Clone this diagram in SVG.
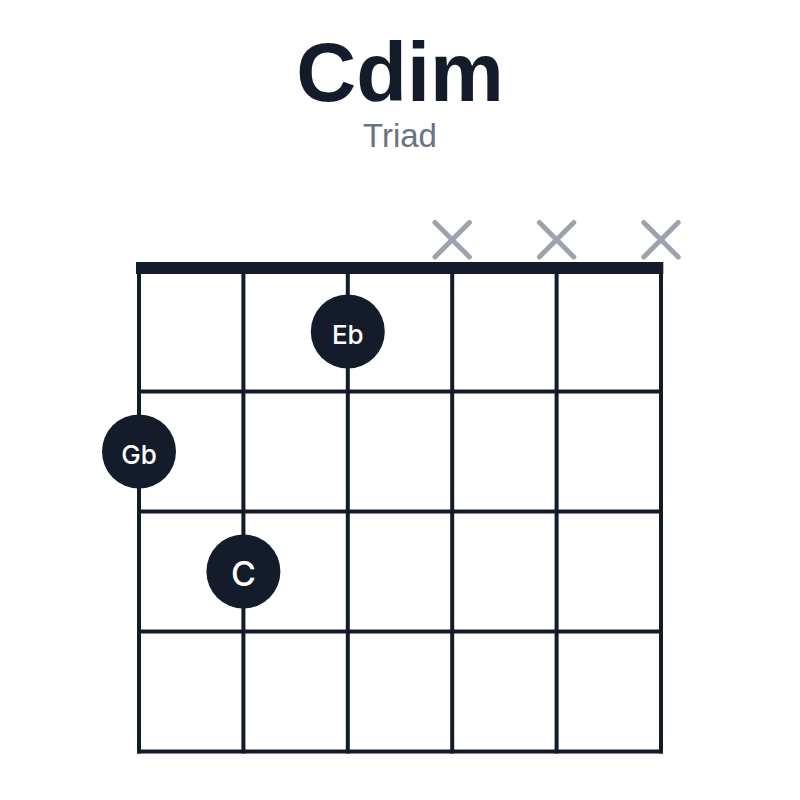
<svg xmlns="http://www.w3.org/2000/svg" width="800" height="800" viewBox="0 0 800 800">
<style>
.str{stroke:#141B2A;stroke-width:4;stroke-linecap:square}
.fret{stroke:#141B2A;stroke-width:4}
.mute{stroke:#9CA3AF;stroke-width:5;stroke-linecap:round}
.dot{fill:#141B2A}
.lbl{fill:#FFFFFF;font-family:Inter,"Liberation Sans",Arial,sans-serif;font-weight:500;text-anchor:middle;dominant-baseline:central}
</style>
<rect width="800" height="800" fill="#FFFFFF"/>
<g id="title">
<text x="400" y="101" font-family="Liberation Sans, Arial, sans-serif" font-weight="bold" font-size="83" fill="#141B2A" text-anchor="middle">Cdim</text>
<text x="400" y="147" font-family="Liberation Sans, Arial, sans-serif" font-size="33" fill="#6B7280" text-anchor="middle">Triad</text>
</g>
<g id="fretboard">
<g id="strings">
<line class="str" x1="139" y1="270" x2="139" y2="751.5"/>
<line class="str" x1="243.4" y1="270" x2="243.4" y2="751.5"/>
<line class="str" x1="347.8" y1="270" x2="347.8" y2="751.5"/>
<line class="str" x1="452.2" y1="270" x2="452.2" y2="751.5"/>
<line class="str" x1="556.6" y1="270" x2="556.6" y2="751.5"/>
<line class="str" x1="661" y1="270" x2="661" y2="751.5"/>
</g>
<g id="frets">
<line class="fret" x1="137" y1="391.5" x2="663" y2="391.5"/>
<line class="fret" x1="137" y1="511.5" x2="663" y2="511.5"/>
<line class="fret" x1="137" y1="631.5" x2="663" y2="631.5"/>
<line class="fret" x1="137" y1="751.5" x2="663" y2="751.5"/>
</g>
<rect id="nut" x="136" y="262" width="527.3" height="12" fill="#141B2A"/>
</g>
<g id="mutes">
<g id="mute-4"><line class="mute" x1="435" y1="222.5" x2="469.4" y2="256.9"/><line class="mute" x1="469.4" y1="222.5" x2="435" y2="256.9"/></g>
<g id="mute-5"><line class="mute" x1="539.4" y1="222.5" x2="573.8" y2="256.9"/><line class="mute" x1="573.8" y1="222.5" x2="539.4" y2="256.9"/></g>
<g id="mute-6"><line class="mute" x1="643.8" y1="222.5" x2="678.2" y2="256.9"/><line class="mute" x1="678.2" y1="222.5" x2="643.8" y2="256.9"/></g>
</g>
<g id="note-Eb"><circle class="dot" cx="347.8" cy="331.5" r="37"/><text class="lbl" x="347.8" y="334" font-size="26">Eb</text></g>
<g id="note-Gb"><circle class="dot" cx="139" cy="451.5" r="37"/><text class="lbl" x="139" y="454" font-size="26">Gb</text></g>
<g id="note-C"><circle class="dot" cx="243.4" cy="571.5" r="37"/><text class="lbl" x="243.4" y="573.5" font-size="34">C</text></g>
</svg>
